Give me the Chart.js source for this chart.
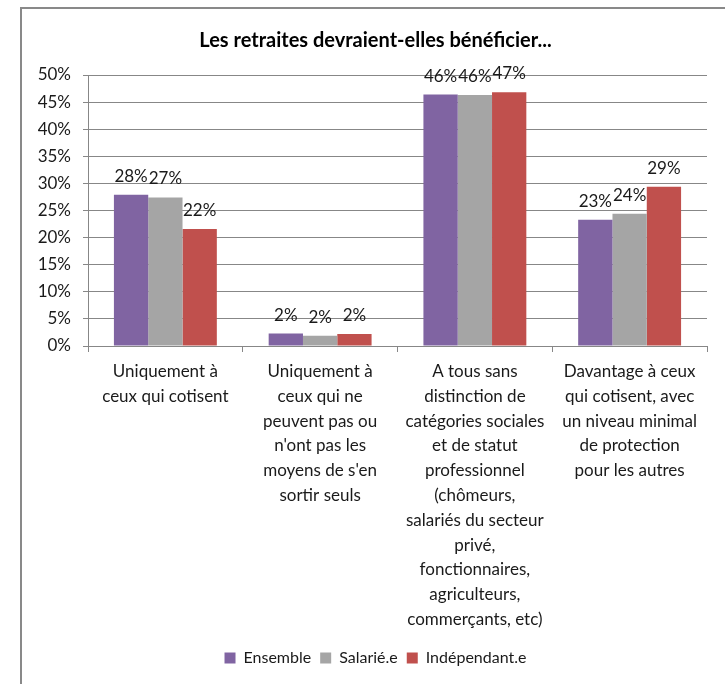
<!DOCTYPE html>
<html>
<head>
<meta charset="utf-8">
<script src="https://cdn.jsdelivr.net/npm/chart.js@4.4.1/dist/chart.umd.min.js"></script>
<style>
  html, body { margin: 0; padding: 0; background: #fff; overflow: hidden; }
  #cadre { position: absolute; left: 20px; top: 7px; width: 800px; height: 800px;
           border-left: 2px solid #898989; border-top: 2px solid #898989; }
  #boite { position: absolute; left: 0; top: 0; width: 725px; height: 684px; }
</style>
</head>
<body>
<div id="cadre"></div>
<div id="boite"><canvas id="grafico"></canvas></div>
<script>
const categories = [
  ['Uniquement à', 'ceux qui cotisent'],
  ['Uniquement à', 'ceux qui ne', 'peuvent pas ou', "n'ont pas les", "moyens de s'en", 'sortir seuls'],
  ['A tous sans', 'distinction de', 'catégories sociales', 'et de statut', 'professionnel', '(chômeurs,',
   'salariés du secteur', 'privé,', 'fonctionnaires,', 'agriculteurs,', 'commerçants, etc)'],
  ['Davantage à ceux', 'qui cotisent, avec', 'un niveau minimal', 'de protection', 'pour les autres']
]
const ensemble = [27.9, 2.3, 46.4, 23.3]
const salarie = [27.4, 1.9, 46.3, 24.4]
const independant = [21.6, 2.2, 46.8, 29.4]
const graduations = [0, 5, 10, 15, 20, 25, 30, 35, 40, 45, 50]

const police = "Lato, 'Liberation Sans', sans-serif"
const grille = '#878787'

// étiquettes de valeur au-dessus des barres
const etiquettes = {
  id: 'etiquettes',
  afterDatasetsDraw(chart) {
    const ctx = chart.ctx
    ctx.save()
    ctx.font = '17px ' + police
    ctx.fillStyle = '#1a1a1a'
    ctx.textAlign = 'center'
    ctx.textBaseline = 'alphabetic'
    chart.data.datasets.forEach((ds, i) => {
      chart.getDatasetMeta(i).data.forEach((barre, j) => {
        ctx.fillText(Math.round(ds.data[j]) + '%', barre.x, barre.y - 13)
      })
    })
    ctx.restore()
  }
}

// le titre et la légende sont un peu décalés vers la droite dans l'original
const decalage = {
  id: 'decalage',
  afterLayout(chart) {
    for (const bloc of [chart.titleBlock, chart.legend]) {
      if (!bloc) continue
      bloc.left += 5
      bloc.right += 5
    }
  }
}

const grafico = document.getElementById('grafico').getContext('2d')
new Chart(grafico, {
  type: 'bar',
  data: {
    labels: categories,
    datasets: [
      { label: 'Ensemble', data: ensemble, backgroundColor: '#8064A2' },
      { label: 'Salarié.e', data: salarie, backgroundColor: '#A5A5A5' },
      { label: 'Indépendant.e', data: independant, backgroundColor: '#C0504D' }
    ]
  },
  options: {
    responsive: true,
    maintainAspectRatio: false,
    animation: false,
    datasets: { bar: { categoryPercentage: 0.665, barPercentage: 1 } },
    layout: { padding: { left: 34, right: 18, top: 0, bottom: 8 } },
    plugins: {
      title: {
        display: true,
        text: 'Les retraites devraient-elles bénéficier...',
        color: '#000',
        font: { family: police, size: 20, weight: 'bold' },
        padding: { top: 29, bottom: 22 }
      },
      legend: {
        position: 'bottom',
        labels: {
          color: '#1a1a1a',
          font: { family: police, size: 16 },
          boxWidth: 11,
          boxHeight: 11,
          padding: 9
        }
      },
      tooltip: { enabled: false }
    },
    scales: {
      x: {
        grid: { drawOnChartArea: false, color: grille, tickLength: 6 },
        border: { color: grille },
        ticks: {
          color: '#1a1a1a',
          font: { family: police, size: 17, lineHeight: 1.46 },
          maxRotation: 0,
          minRotation: 0,
          autoSkip: false,
          padding: 7
        },
        afterFit(scale) { scale.height = 295 }
      },
      y: {
        min: 0,
        max: 50,
        afterBuildTicks(scale) { scale.ticks = graduations.map(v => ({ value: v })) },
        grid: { color: grille, tickLength: 5 },
        border: { color: grille },
        ticks: {
          color: '#1a1a1a',
          font: { family: police, size: 17 },
          padding: 12,
          callback: v => v + '%'
        },
        afterFit(scale) { scale.width = 54 }
      }
    }
  },
  plugins: [etiquettes, decalage]
})
</script>
</body>
</html>
